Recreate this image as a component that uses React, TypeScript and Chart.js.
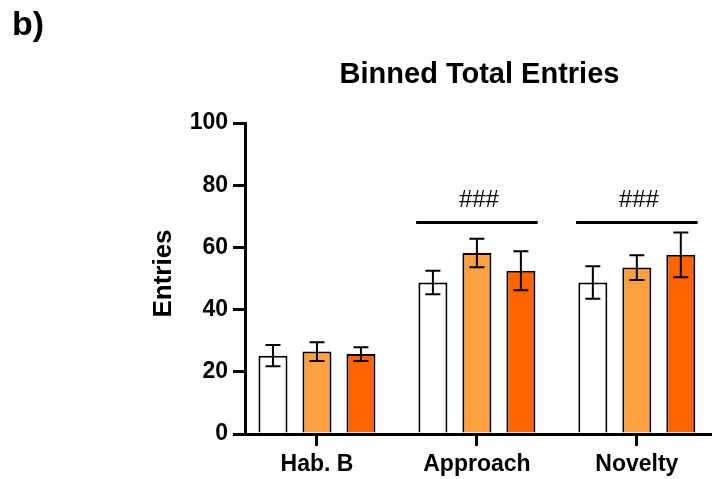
import React, { useEffect, useRef } from "react";
import { Chart, registerables } from "chart.js";

Chart.register(...registerables);

const categories = ["Hab. B", "Approach", "Novelty"];
const yTicks = [0, 20, 40, 60, 80, 100];

const group1 = [25.2, 48.7, 48.7];
const group1Err = [3.4, 3.8, 5.2];
const group2 = [26.5, 58.2, 53.5];
const group2Err = [3.0, 4.6, 4.0];
const group3 = [25.7, 52.5, 57.6];
const group3Err = [2.2, 6.3, 7.2];

const sigCategoryIndex = [1, 2];
const sigLabel = "###";
const sigLevel = 68;
const sigHalfSpan = 0.38;

const FONT = "'Liberation Sans', Arial, Helvetica, sans-serif";

export default function App() {
  const ref = useRef<HTMLCanvasElement | null>(null);

  useEffect(() => {
    const canvas = ref.current;
    if (!canvas) return;

    const errs = [group1Err, group2Err, group3Err];

    const errorBarPlugin = {
      id: "errorBars",
      afterDatasetsDraw(chart: any) {
        const ctx = chart.ctx;
        const y = chart.scales.y;
        ctx.save();
        ctx.strokeStyle = "#000";
        ctx.lineWidth = 2;
        chart.data.datasets.forEach((ds: any, di: number) => {
          const meta = chart.getDatasetMeta(di);
          meta.data.forEach((el: any, i: number) => {
            const v = ds.data[i].y;
            const e = errs[di][i];
            const top = y.getPixelForValue(v + e);
            const bot = y.getPixelForValue(v - e);
            const x = el.x;
            ctx.beginPath();
            ctx.moveTo(x, top);
            ctx.lineTo(x, bot);
            ctx.moveTo(x - 7.5, top);
            ctx.lineTo(x + 7.5, top);
            ctx.moveTo(x - 7.5, bot);
            ctx.lineTo(x + 7.5, bot);
            ctx.stroke();
          });
        });
        ctx.restore();
      },
      afterDraw(chart: any) {
        const ctx = chart.ctx;
        const xs = chart.scales.x;
        const ys = chart.scales.y;
        ctx.save();
        ctx.fillStyle = "#000";
        ctx.strokeStyle = "#000";
        // panel label
        ctx.font = `bold 34px ${FONT}`;
        ctx.textAlign = "left";
        ctx.textBaseline = "alphabetic";
        ctx.fillText("b)", 12, 35);
        // title
        ctx.font = `bold 29px ${FONT}`;
        ctx.textAlign = "center";
        ctx.fillText("Binned Total Entries", (chart.chartArea.left + chart.chartArea.right) / 2 + 1, 83);
        // y axis title
        ctx.save();
        ctx.translate(164, (chart.chartArea.top + chart.chartArea.bottom) / 2 - 5);
        ctx.rotate(-Math.PI / 2);
        ctx.font = `bold 26px ${FONT}`;
        ctx.textBaseline = "middle";
        ctx.fillText("Entries", 0, 0);
        ctx.restore();
        // significance
        const ly = ys.getPixelForValue(sigLevel);
        sigCategoryIndex.forEach((ci) => {
          const x0 = xs.getPixelForValue(ci - sigHalfSpan);
          const x1 = xs.getPixelForValue(ci + sigHalfSpan);
          ctx.lineWidth = 3;
          ctx.beginPath();
          ctx.moveTo(x0, ly);
          ctx.lineTo(x1, ly);
          ctx.stroke();
          ctx.font = `24px ${FONT}`;
          ctx.textAlign = "center";
          ctx.textBaseline = "alphabetic";
          ctx.fillText(sigLabel, xs.getPixelForValue(ci) + 2, ly - 16);
        });
        ctx.restore();
      },
    };

    const mk = (vals: number[]) => vals.map((v, i) => ({ x: i, y: v }));

    const chart = new Chart(canvas, {
      type: "bar",
      data: {
        datasets: [
          { data: mk(group1), backgroundColor: "#FFFFFF", borderColor: "#000", borderWidth: 2 },
          { data: mk(group2), backgroundColor: "#FCA040", borderColor: "#000", borderWidth: 2 },
          { data: mk(group3), backgroundColor: "#FF6400", borderColor: "#000", borderWidth: 2 },
        ] as any,
      },
      options: {
        animation: false,
        responsive: false,
        devicePixelRatio: 1,
        layout: { padding: { top: 123, left: 0, right: 0, bottom: 0 } },
        datasets: { bar: { categoryPercentage: 0.825, barPercentage: 0.66 } },
        plugins: { legend: { display: false }, tooltip: { enabled: false }, title: { display: false } },
        scales: {
          x: {
            type: "linear",
            min: -0.45,
            max: 2.47,
            offset: false,
            afterBuildTicks: (scale: any) => {
              scale.ticks = categories.map((_, i) => ({ value: i }));
            },
            afterFit: (scale: any) => {
              scale.height = 45;
            },
            ticks: {
              autoSkip: false,
              maxRotation: 0,
              padding: 5,
              color: "#000",
              font: { family: FONT, size: 23, weight: "bold" },
              callback: (v: any) => categories[Math.round(Number(v))] ?? "",
            },
            grid: { offset: false, drawOnChartArea: false, drawTicks: true, tickLength: 12, color: "#000", lineWidth: 3 },
            border: { display: true, color: "#000", width: 3 },
          },
          y: {
            min: 0,
            max: 100,
            afterBuildTicks: (scale: any) => {
              scale.ticks = yTicks.map((v) => ({ value: v }));
            },
            afterFit: (scale: any) => {
              scale.width = 245;
            },
            ticks: {
              padding: 5,
              color: "#000",
              font: { family: FONT, size: 23, weight: "bold" },
            },
            grid: { offset: false, drawOnChartArea: false, drawTicks: true, tickLength: 12, color: "#000", lineWidth: 3 },
            border: { display: true, color: "#000", width: 3 },
          },
        },
      } as any,
      plugins: [errorBarPlugin],
    });

    return () => chart.destroy();
  }, []);

  return (
    <div style={{ position: "absolute", left: 0, top: 0, width: 712, height: 479, background: "#fff" }}>
      <canvas ref={ref} width={712} height={479} style={{ display: "block", width: 712, height: 479 }} />
    </div>
  );
}
